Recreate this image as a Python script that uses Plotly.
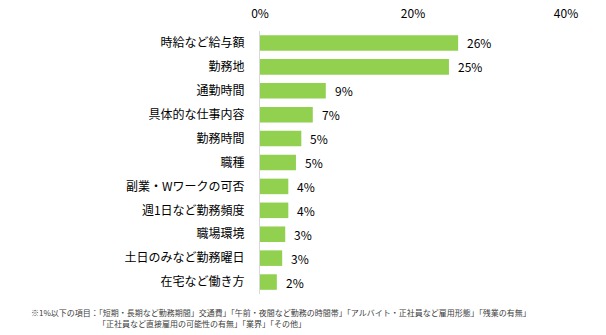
import plotly.graph_objects as go

categories = ["時給など給与額", "勤務地", "通勤時間", "具体的な仕事内容", "勤務時間", "職種",
              "副業・Wワークの可否", "週1日など勤務頻度", "職場環境", "土日のみなど勤務曜日", "在宅など働き方"]
values = [25.9, 24.7, 8.6, 6.9, 5.4, 4.7, 3.7, 3.7, 3.3, 2.9, 2.2]
tick_vals = [0, 20, 40]
tick_text = ["0%", "20%", "40%"]
footnote_lines = [
    "※1%以下の項目：「短期・長期など勤務期間」交通費」「午前・夜間など勤務の時間帯」「アルバイト・正社員など雇用形態」「残業の有無」",
    "「正社員など直接雇用の可能性の有無」「業界」「その他」",
]

FONT = "Noto Sans CJK JP"
labels = [f"{round(v)}%" for v in values]

ML, MR, MT, MB = 260, 40, 31, 41
W, H = 606, 335

fig = go.Figure()
fig.add_trace(go.Bar(
    y=categories, x=values, orientation="h",
    marker=dict(color="#92D050", line=dict(width=0)),
    hoverinfo="skip",
))

for c, v, t in zip(categories, values, labels):
    fig.add_annotation(x=v, y=c, xref="x", yref="y", text=t, showarrow=False,
                       xanchor="left", xshift=7, font=dict(size=12, color="#000000", family=FONT))

plot_h = H - MT - MB
plot_w = W - ML - MR
def px_to_paper(xp, yp):
    return (xp - ML) / plot_w, (H - MB - yp) / plot_h

for line, (xp, yp) in zip(footnote_lines, [(29, 312), (96, 323)]):
    px, py = px_to_paper(xp, yp)
    fig.add_annotation(x=px, y=py, xref="paper", yref="paper", text=line, showarrow=False,
                       xanchor="left", yanchor="middle",
                       font=dict(size=8, color="#404040", family=FONT))

fig.update_layout(
    width=W, height=H,
    margin=dict(l=ML, r=MR, t=MT, b=MB),
    paper_bgcolor="white", plot_bgcolor="white",
    bargap=0.35,
    showlegend=False,
    font=dict(family=FONT, size=12, color="#000000"),
    xaxis=dict(range=[0, 40], side="top", tickvals=tick_vals, ticktext=tick_text,
               showgrid=False, zeroline=False, showline=False, ticks="",
               ticklabelstandoff=10, tickfont=dict(size=12, family=FONT),
               automargin=False, fixedrange=True),
    yaxis=dict(autorange="reversed", showline=True, linecolor="#d9d9d9", linewidth=1,
               ticks="", ticklabelstandoff=12, showgrid=False, zeroline=False,
               automargin=False, tickfont=dict(size=12, family=FONT)),
)

fig.write_html("out.html")
